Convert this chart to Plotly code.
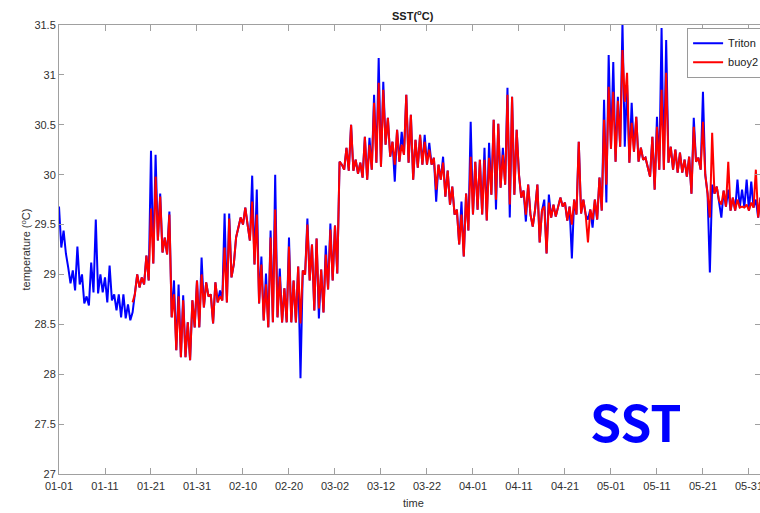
import pandas as pd
import plotly.graph_objects as go

# ---- data (12-hour samples) ----
triton_start = "2015-01-01"
triton = [
    29.68, 29.27, 29.44, 29.21, 29.07, 28.91, 29.04, 28.84, 29.28, 28.90, 29.00, 28.71, 28.78, 28.69, 29.12, 28.82, 29.55, 28.81, 29.00, 28.82,
    28.97, 28.72, 29.09, 28.74, 28.80, 28.64, 28.80, 28.57, 28.80, 28.56, 28.70, 28.54, 28.62, 28.80, 29.00, 28.87, 28.97, 28.90, 29.19, 28.94,
    30.24, 29.11, 30.20, 29.34, 29.81, 29.22, 29.37, 29.20, 29.63, 28.57, 28.94, 28.24, 28.90, 28.17, 28.79, 28.17, 28.52, 28.14, 28.74, 28.47,
    28.94, 28.47, 29.17, 28.67, 28.92, 28.78, 28.80, 28.51, 28.92, 28.72, 28.84, 28.74, 29.61, 28.72, 29.61, 28.97, 29.10, 29.37, 29.47, 29.57,
    29.50, 29.67, 29.50, 29.34, 29.99, 29.10, 29.85, 28.71, 29.18, 28.54, 29.01, 28.47, 29.44, 28.52, 30.00, 28.57, 29.06, 28.52, 28.86, 28.52,
    29.37, 28.52, 28.94, 28.52, 29.08, 27.96, 29.04, 29.00, 29.56, 28.94, 29.30, 28.64, 29.36, 28.56, 29.05, 28.62, 29.29, 28.85, 29.51, 28.94,
    29.49, 29.01, 30.13, 30.10, 30.05, 30.27, 30.04, 30.50, 30.04, 30.15, 30.01, 30.12, 29.97, 30.38, 29.95, 30.37, 30.05, 30.80, 30.12, 31.17,
    30.08, 30.93, 30.30, 30.57, 30.18, 30.33, 29.93, 30.45, 30.13, 30.43, 30.20, 30.80, 30.12, 30.60, 29.95, 30.35, 30.07, 30.40, 30.10, 30.40,
    30.10, 30.32, 30.10, 30.17, 29.73, 30.10, 29.95, 30.18, 29.78, 30.04, 29.70, 29.88, 29.60, 29.65, 29.30, 29.73, 29.18, 29.81, 29.44, 30.53,
    29.60, 30.13, 29.65, 30.15, 29.60, 30.27, 29.54, 30.32, 29.80, 30.55, 29.65, 30.51, 29.87, 30.27, 29.90, 30.87, 29.57, 30.78, 29.80, 30.45,
    30.00, 29.77, 29.84, 29.53, 29.90, 29.60, 29.48, 29.65, 29.90, 29.32, 29.64, 29.75, 29.21, 29.80, 29.57, 29.70, 29.58, 29.67, 29.77, 29.68,
    29.72, 29.54, 29.68, 29.16, 29.75, 29.60, 30.33, 29.61, 29.75, 29.60, 29.55, 29.65, 29.47, 29.75, 29.55, 29.97, 29.64, 30.75, 29.72, 31.20,
    30.26, 31.13, 30.13, 30.78, 30.28, 31.52, 30.28, 30.90, 30.12, 30.72, 30.23, 30.58, 30.13, 30.27, 30.15, 30.17, 30.07, 29.98, 30.38, 29.85,
    30.58, 30.05, 31.47, 30.05, 31.35, 30.12, 30.28, 30.05, 30.25, 30.02, 30.22, 30.02, 30.15, 29.98, 30.18, 29.81, 30.57, 30.13, 30.17, 30.05,
    30.83, 30.00, 29.81, 29.02, 29.90, 29.81, 29.88, 29.74, 29.57, 29.84, 29.68, 29.85, 29.64, 29.77, 29.64, 29.95, 29.67, 29.85, 29.67, 29.95,
    29.64, 29.93, 29.67, 29.75, 29.57, 29.77,
]

buoy2_start = "2015-01-17"
buoy2 = [
    28.72, 28.80, 29.00, 28.87, 28.97, 28.90, 29.19, 28.94,
    29.66, 29.11, 29.98, 29.34, 29.78, 29.22, 29.37, 29.20, 29.60, 28.57, 28.80, 28.24, 28.78, 28.17, 28.74, 28.17, 28.52, 28.14, 28.74, 28.47,
    28.94, 28.47, 29.00, 28.67, 28.92, 28.78, 28.80, 28.51, 28.92, 28.72, 28.78, 28.74, 29.27, 28.72, 29.56, 28.97, 29.10, 29.37, 29.47, 29.57,
    29.50, 29.67, 29.50, 29.34, 29.73, 29.10, 29.60, 28.71, 29.10, 28.54, 28.90, 28.47, 29.37, 28.52, 29.65, 28.57, 28.98, 28.52, 28.86, 28.52,
    29.28, 28.52, 28.94, 28.52, 29.08, 28.51, 29.04, 29.00, 29.50, 28.94, 29.30, 28.64, 29.36, 28.66, 29.05, 28.62, 29.20, 28.85, 29.45, 28.94,
    29.49, 29.01, 30.13, 30.10, 30.05, 30.27, 30.04, 30.50, 30.04, 30.15, 30.01, 30.12, 29.97, 30.38, 29.95, 30.30, 30.05, 30.72, 30.12, 30.92,
    30.08, 30.85, 30.30, 30.57, 30.18, 30.33, 30.10, 30.45, 30.13, 30.30, 30.20, 30.80, 30.12, 30.60, 29.95, 30.35, 30.07, 30.40, 30.10, 30.33,
    30.10, 30.25, 30.10, 30.17, 29.85, 30.10, 29.95, 30.12, 29.78, 30.04, 29.70, 29.88, 29.60, 29.65, 29.30, 29.60, 29.18, 29.81, 29.44, 30.18,
    29.60, 30.13, 29.65, 30.15, 29.60, 30.15, 29.54, 30.17, 29.80, 30.55, 29.75, 30.51, 29.87, 30.20, 29.90, 30.80, 29.70, 30.78, 29.80, 30.45,
    30.00, 29.77, 29.84, 29.60, 29.90, 29.60, 29.48, 29.65, 29.90, 29.32, 29.64, 29.68, 29.21, 29.72, 29.57, 29.70, 29.58, 29.67, 29.77, 29.68,
    29.72, 29.54, 29.68, 29.50, 29.75, 29.60, 30.33, 29.61, 29.75, 29.60, 29.32, 29.65, 29.55, 29.75, 29.55, 29.97, 29.64, 30.55, 29.90, 30.88,
    30.26, 30.83, 30.13, 30.74, 30.28, 31.25, 30.73, 31.02, 30.12, 30.52, 30.23, 30.58, 30.13, 30.27, 30.15, 30.17, 30.07, 29.98, 30.38, 29.85,
    30.48, 30.05, 30.85, 30.05, 31.02, 30.12, 30.28, 30.05, 30.25, 30.02, 30.22, 30.02, 30.15, 29.98, 30.18, 29.81, 30.48, 30.13, 30.17, 30.05,
    30.53, 30.00, 29.81, 29.57, 30.42, 29.81, 29.88, 29.74, 29.70, 29.84, 29.68, 30.13, 29.64, 29.77, 29.64, 29.75, 29.67, 29.68, 29.67, 29.70,
    29.64, 29.72, 29.67, 30.05, 29.57, 29.77,
]

tick_labels = ["01-01", "01-11", "01-21", "01-31", "02-10", "02-20", "03-02", "03-12",
               "03-22", "04-01", "04-11", "04-21", "05-01", "05-11", "05-21", "05-31"]
y_ticks = [27, 27.5, 28, 28.5, 29, 29.5, 30, 30.5, 31, 31.5]

# ---- build ----
t_time = pd.date_range(triton_start, periods=len(triton), freq="12h")
b_time = pd.date_range(buoy2_start, periods=len(buoy2), freq="12h")
tick_vals = pd.date_range(triton_start, periods=len(tick_labels), freq="10D")
x_end = pd.Timestamp(triton_start) + pd.Timedelta(days=152.4)

font_main = "Liberation Sans, Arial, Helvetica, sans-serif"
axis_col = "#a0a0a0"
txt_col = "#303030"

fig = go.Figure()
fig.add_trace(go.Scatter(x=t_time, y=triton, mode="lines", name="Triton",
                         line=dict(color="#0000ff", width=2)))
fig.add_trace(go.Scatter(x=b_time, y=buoy2, mode="lines", name="buoy2",
                         line=dict(color="#ff0000", width=2)))

fig.update_layout(
    width=760, height=513,
    margin=dict(l=59, r=0, t=25, b=39, autoexpand=False),
    paper_bgcolor="white", plot_bgcolor="white",
    font=dict(family=font_main, size=11, color=txt_col),
    showlegend=True,
    legend=dict(x=0.896, y=0.994, xanchor="left", yanchor="top",
                bgcolor="white", bordercolor="#9a9a9a", borderwidth=1,
                font=dict(size=11, color="#202020"), itemwidth=30,
                tracegroupgap=0),
    xaxis=dict(range=[pd.Timestamp(triton_start), x_end],
               tickmode="array", tickvals=tick_vals, ticktext=tick_labels,
               ticks="inside", ticklen=6, tickcolor=axis_col, tickwidth=1,
               showline=True, linecolor=axis_col, linewidth=1, mirror="ticks",
               showgrid=False, zeroline=False, ticklabelstandoff=2,
               ticklabeloverflow="allow",
               tickfont=dict(size=11, color=txt_col)),
    yaxis=dict(range=[27, 31.5], tickmode="array", tickvals=y_ticks,
               ticktext=[f"{v:g}" for v in y_ticks],
               ticks="inside", ticklen=5, tickcolor=axis_col, tickwidth=1,
               showline=True, linecolor=axis_col, linewidth=1, mirror="ticks",
               showgrid=False, zeroline=False,
               tickfont=dict(size=11, color=txt_col)),
    annotations=[
        dict(text="<b>SST(<sup>o</sup>C)</b>", xref="paper", yref="paper",
             x=0.505, y=1.0223, xanchor="center", yanchor="middle",
             showarrow=False, font=dict(size=11, color="#202020")),
        dict(text="temperature (<sup>o</sup>C)", xref="paper", yref="paper",
             x=-0.0485, y=0.5, xanchor="center", yanchor="middle", textangle=-90,
             showarrow=False, font=dict(size=11, color=txt_col)),
        dict(text="time", xref="paper", yref="paper",
             x=0.505, y=-0.0646, xanchor="center", yanchor="middle",
             showarrow=False, font=dict(size=11, color=txt_col)),
        dict(text="<b>SST</b>", xref="paper", yref="paper",
             x=0.823, y=0.120, xanchor="center", yanchor="middle",
             showarrow=False,
             font=dict(family="Noto Sans CJK SC, Noto Sans, sans-serif", size=50, color="#0000ff")),
    ],
)

fig.write_html("out.html")
